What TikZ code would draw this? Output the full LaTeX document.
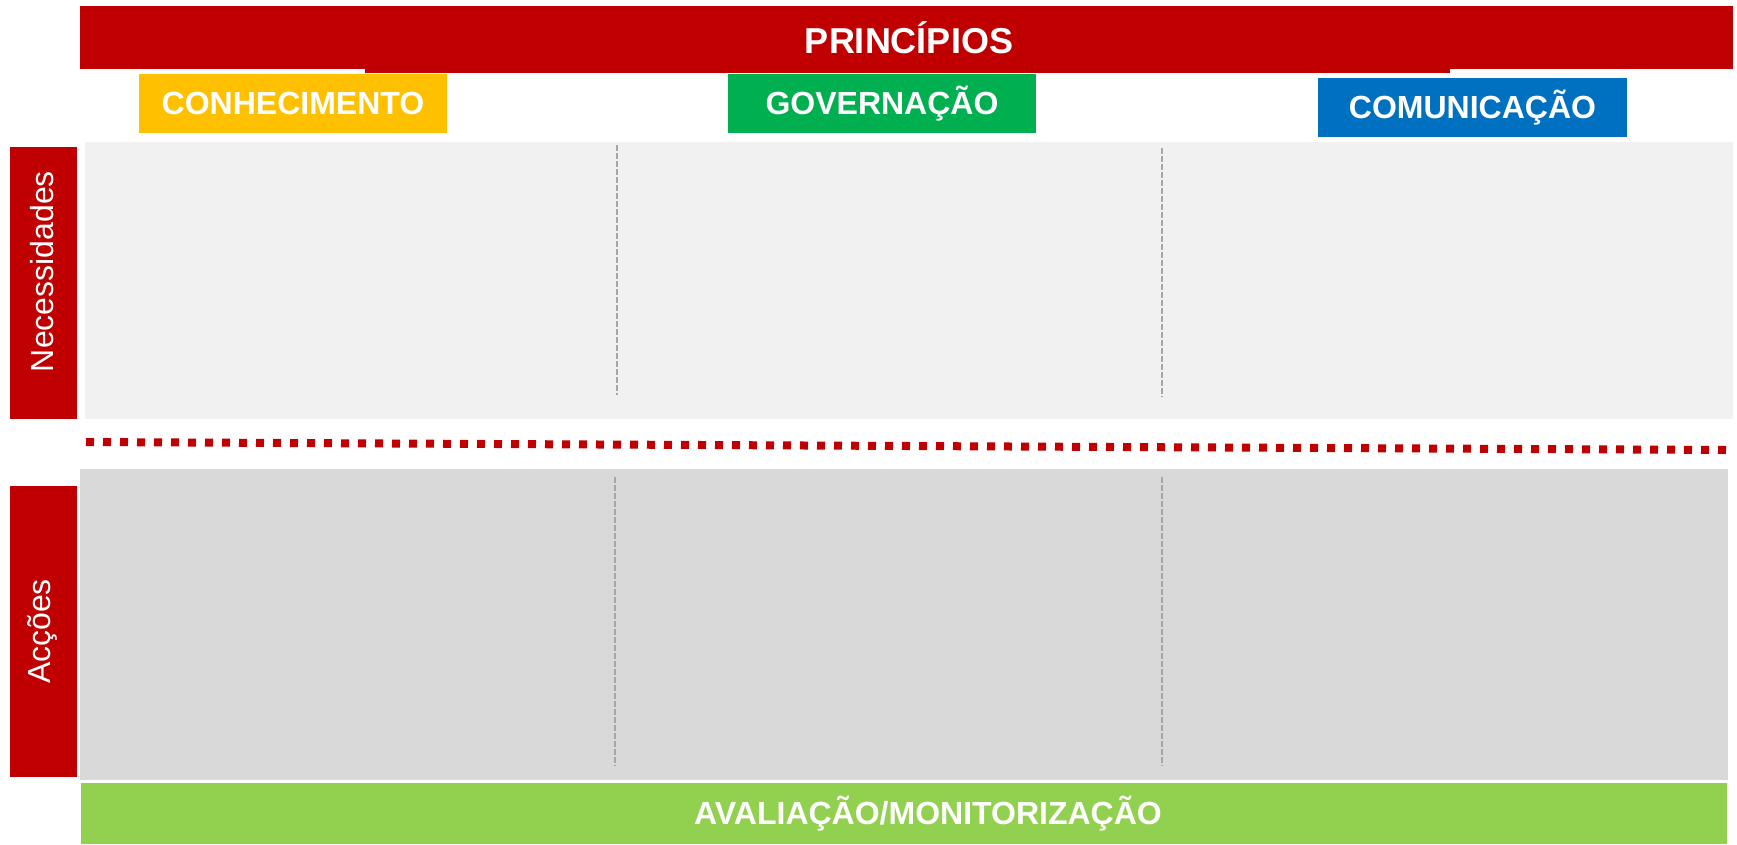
\documentclass[tikz,border=0pt]{standalone}
\usepackage{fontspec}
\setmainfont{Liberation Sans}
\usepackage{tikz}
\usetikzlibrary{positioning}
\definecolor{redbar}{HTML}{C00000}
\definecolor{yellowbox}{HTML}{FFC000}
\definecolor{greenbox}{HTML}{00B050}
\definecolor{bluebox}{HTML}{0070C0}
\definecolor{panellight}{HTML}{F1F1F1}
\definecolor{paneldark}{HTML}{D9D9D9}
\definecolor{greenbar}{HTML}{92D050}
\definecolor{divgray}{HTML}{A6A6A6}
\tikzstyle{plate} = [rectangle, inner sep=0pt, outer sep=0pt, text=white,
    font=\bfseries\fontsize{24pt}{28pt}\selectfont]
\tikzstyle{sidebar} = [rectangle, fill=redbar, inner sep=0pt, outer sep=0pt,
    rotate=90, minimum height=50.25pt]
\tikzstyle{sidetext} = [text=white, rotate=90, inner sep=0pt,
    font=\fontsize{24pt}{28pt}\selectfont]
\tikzstyle{panel} = [rectangle, inner sep=0pt, outer sep=0pt]
\tikzstyle{divline} = [draw=divgray, line width=1.2pt, dash pattern=on 4.5pt off 1.5pt]
\tikzstyle{redline} = [draw=redbar, line width=6pt, dash pattern=on 6pt off 6.75pt]

\begin{document}
\begin{tikzpicture}[x=0.75pt, y=-0.75pt]
        \useasboundingbox (0,0) rectangle (1737,844);
            % Nodes
        \node [panel, fill=redbar, minimum width=813.75pt, minimum height=50.25pt] (princstep) at (907.5,39.5) {};
        \node [panel, fill=redbar, minimum width=1239.75pt, minimum height=47.25pt] (princ) at (906.5,37.5) {};
        \node [plate, font=\bfseries\fontsize{27pt}{30pt}\selectfont] (princtext) at (909,38) {PRINCÍPIOS};
        \node [plate, fill=yellowbox, minimum width=231pt, minimum height=44.25pt] (conh) at (293,103.5) {CONHECIMENTO};
        \node [plate, fill=greenbox, minimum width=231pt, minimum height=44.25pt] (gov) at (882,103.5) {GOVERNAÇÃO};
        \node [plate, fill=bluebox, minimum width=231.75pt, minimum height=44.25pt] (com) at (1472.5,107.5) {COMUNICAÇÃO};
        \node [panel, fill=panellight, minimum width=1236pt, minimum height=207.75pt] (necpanel) at (909,280.5) {};
        \node [sidebar, minimum width=204pt] (necbar) at (43.5,283) {};
        \node [sidetext] (nectext) at (42,271.5) {Necessidades};
        \node [panel, fill=paneldark, minimum width=1236pt, minimum height=233.25pt] (acpanel) at (904,624.5) {};
        \node [sidebar, minimum width=218.25pt] (acbar) at (43.5,631.5) {};
        \node [sidetext] (actext) at (42,631.5) {Acções};
        \node [panel, fill=greenbar, minimum width=1234.5pt, minimum height=45.75pt] (aval) at (904,813.5) {};
        \node [plate] (avaltext) at (928,813.5) {AVALIAÇÃO/MONITORIZAÇÃO};
            % Edges
        \coordinate (necA1) at (617,145);  \coordinate (necA2) at (617,395);
        \coordinate (necB1) at (1162,148); \coordinate (necB2) at (1162,397);
        \coordinate (acA1) at (615,477);   \coordinate (acA2) at (615,766);
        \coordinate (acB1) at (1162,477);  \coordinate (acB2) at (1162,766);
        \coordinate (sepL) at (86,442);    \coordinate (sepR) at (1733,450);
        \path [divline] (necA1) -- (necA2);
        \path [divline] (necB1) -- (necB2);
        \path [divline] (acA1) -- (acA2);
        \path [divline] (acB1) -- (acB2);
        \path [redline] (sepL) -- (sepR);
\end{tikzpicture}
\end{document}
